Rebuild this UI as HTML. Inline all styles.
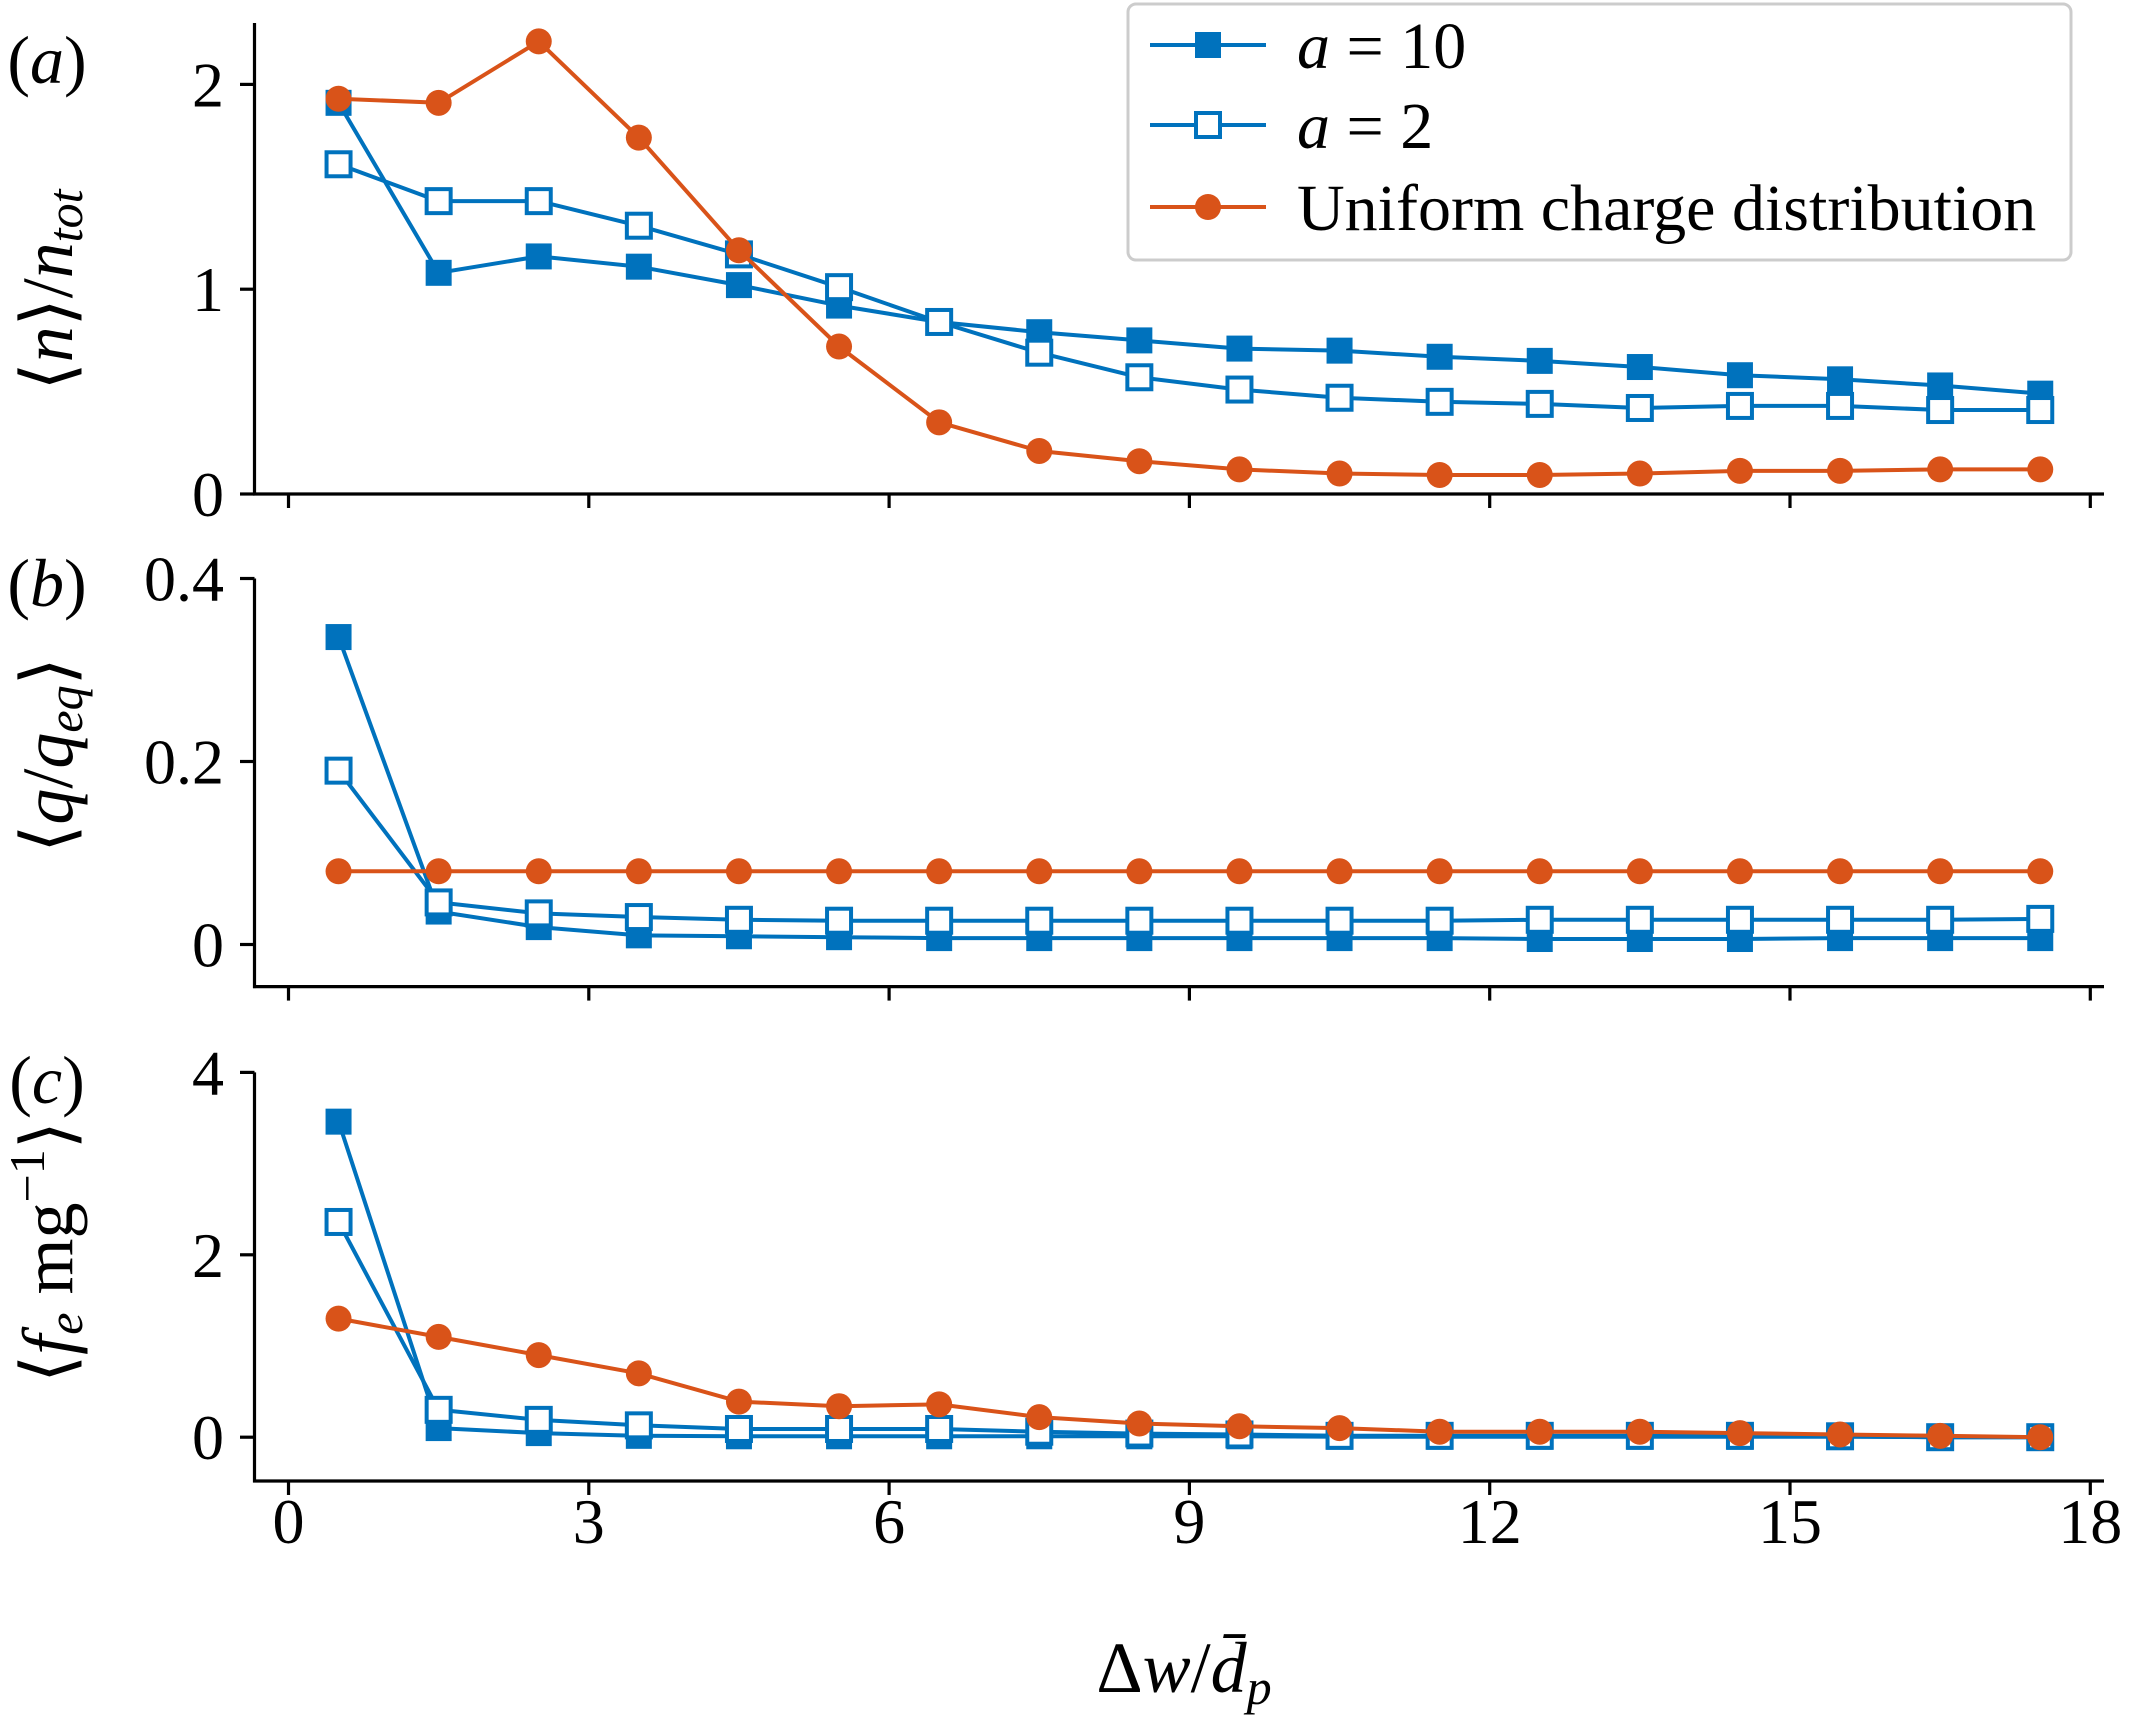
<!DOCTYPE html>
<html><head><meta charset="utf-8"><style>
html,body{margin:0;padding:0;background:#fff;}
svg{display:block;font-family:"Liberation Serif",serif;}
</style></head><body>
<svg id="chart" width="2134" height="1715" viewBox="0 0 2134 1715" xmlns="http://www.w3.org/2000/svg">
<g id="plots"></g>
<text x="47" y="83" font-size="68" text-anchor="middle">(<tspan font-style="italic">a</tspan>)</text>
<text x="47" y="606" font-size="68" text-anchor="middle">(<tspan font-style="italic">b</tspan>)</text>
<text x="47" y="1103" font-size="68" text-anchor="middle">(<tspan font-style="italic">c</tspan>)</text>
<text transform="translate(72,290) rotate(-90)" font-size="72" text-anchor="middle">⟨<tspan font-style="italic">n</tspan>⟩/<tspan font-style="italic">n<tspan font-size="50" dy="10">tot</tspan></tspan></text>
<text transform="translate(72,755) rotate(-90)" font-size="72" text-anchor="middle">⟨<tspan font-style="italic">q</tspan>/<tspan font-style="italic">q<tspan font-size="50" dy="10">eq</tspan></tspan><tspan dy="-10">⟩</tspan></text>
<text transform="translate(72,1252) rotate(-90)" font-size="72" text-anchor="middle">⟨<tspan font-style="italic">f<tspan font-size="50" dy="10">e</tspan></tspan><tspan dy="-10"> mg</tspan><tspan font-size="50" dy="-28">−1</tspan><tspan dy="28">⟩</tspan></text>
<text x="1184" y="1692" font-size="72" text-anchor="middle">Δ<tspan font-style="italic">w</tspan>/<tspan font-style="italic">d̄<tspan font-size="50" dy="12">p</tspan></tspan></text>
<g>
<rect x="1128" y="4" width="943" height="256" rx="8" fill="#fff" stroke="#ccc" stroke-width="3"/>
<g>
<line x1="1150" y1="45" x2="1266" y2="45" stroke="#0072BD" stroke-width="4"/>
<rect x="1195" y="32" width="26" height="26" fill="#0072BD"/>
<text x="1297" y="68" font-size="66"><tspan font-style="italic">a</tspan> = 10</text></g>
<g>
<line x1="1150" y1="125" x2="1266" y2="125" stroke="#0072BD" stroke-width="4"/>
<rect x="1196" y="113" width="24" height="24" fill="#fff" stroke="#0072BD" stroke-width="4"/>
<text x="1297" y="148" font-size="66"><tspan font-style="italic">a</tspan> = 2</text></g>
<g>
<line x1="1150" y1="207" x2="1266" y2="207" stroke="#D95319" stroke-width="4"/>
<circle cx="1208" cy="207" r="13" fill="#D95319"/>
<text x="1297" y="230" font-size="66">Uniform charge distribution</text></g>
</g>
</svg>
<script>
const xCenters = [0.5,1.5,2.5,3.5,4.5,5.5,6.5,7.5,8.5,9.5,10.5,11.5,12.5,13.5,14.5,15.5,16.5,17.5];
const xTicks = [0,3,6,9,12,15,18];
const nA10 = [1.91,1.08,1.16,1.11,1.02,0.92,0.84,0.79,0.75,0.71,0.70,0.67,0.65,0.62,0.58,0.56,0.53,0.49];
const nA2 = [1.61,1.43,1.43,1.31,1.17,1.01,0.84,0.69,0.57,0.51,0.47,0.45,0.44,0.42,0.43,0.43,0.41,0.41];
const nUni = [1.93,1.91,2.21,1.74,1.19,0.72,0.35,0.21,0.16,0.12,0.10,0.093,0.093,0.10,0.113,0.113,0.12,0.12];
const qA10 = [0.336,0.036,0.019,0.010,0.009,0.008,0.007,0.007,0.007,0.007,0.007,0.007,0.006,0.006,0.006,0.007,0.007,0.007];
const qA2 = [0.19,0.046,0.034,0.030,0.027,0.026,0.026,0.026,0.026,0.026,0.026,0.026,0.027,0.027,0.027,0.027,0.027,0.028];
const qUni = [0.08,0.08,0.08,0.08,0.08,0.08,0.08,0.08,0.08,0.08,0.08,0.08,0.08,0.08,0.08,0.08,0.08,0.08];
const fA10 = [3.46,0.10,0.045,0.015,0.01,0.01,0.01,0.01,0.01,0.01,0.005,0.005,0.005,0.005,0.005,0.005,0.0,0.0];
const fA2 = [2.36,0.30,0.19,0.13,0.09,0.09,0.09,0.06,0.04,0.03,0.015,0.015,0.015,0.015,0.015,0.01,0.0,0.0];
const fUni = [1.30,1.10,0.90,0.70,0.39,0.34,0.36,0.22,0.15,0.12,0.10,0.06,0.06,0.06,0.045,0.03,0.015,0.0];
const yTicksA = [0,1,2], yTicksB = [0,0.2,0.4], yTicksC = [0,2,4];
const yLabelsA = ["0","1","2"], yLabelsB = ["0","0.2","0.4"], yLabelsC = ["0","2","4"];

const NS = "http://www.w3.org/2000/svg";
const root = document.getElementById('plots');
const X0 = 288.5, XU = 100.1;
const xs = v => X0 + v*XU;
function mk(tag, attrs, parent){const e=document.createElementNS(NS,tag);for(const k in attrs)e.setAttribute(k,attrs[k]);parent.appendChild(e);return e;}
const panels = [
 {id:'a', zeroY:494, unit:204.8, yMin:0, yMax:2.3, ticks:yTicksA, labels:yLabelsA, series:[nA10,nA2,nUni], showX:false},
 {id:'b', zeroY:944.5, unit:915, yMin:-0.046, yMax:0.4, ticks:yTicksB, labels:yLabelsB, series:[qA10,qA2,qUni], showX:false},
 {id:'c', zeroY:1437.2, unit:91.2, yMin:-0.48, yMax:4, ticks:yTicksC, labels:yLabelsC, series:[fA10,fA2,fUni], showX:true}
];
const styles = [{c:'#0072BD',m:'fsq',n:'a10'},{c:'#0072BD',m:'osq',n:'a2'},{c:'#D95319',m:'circ',n:'uniform'}];
panels.forEach(p=>{
  const ys = v => p.zeroY - v*p.unit;
  const g = mk('g',{},root);
  
  
  const yb = ys(p.yMin), yt = ys(p.yMax);
  const sp1 = mk('line',{x1:254.5,y1:yt,x2:254.5,y2:yb+1.5,stroke:'#000','stroke-width':3.2},g);
  
  
  const sp2 = mk('line',{x1:253,y1:yb,x2:2104,y2:yb,stroke:'#000','stroke-width':3.2},g);
  
  
  p.ticks.forEach((t,i)=>{
    mk('line',{x1:240,y1:ys(t),x2:254.5,y2:ys(t),stroke:'#000','stroke-width':3.2},g);
    const tx = mk('text',{x:224,y:ys(t)+22,'font-size':64,'text-anchor':'end'},g);
    
    
    tx.textContent = p.labels[i];
  });
  xTicks.forEach(t=>{
    mk('line',{x1:xs(t),y1:yb,x2:xs(t),y2:yb+14,stroke:'#000','stroke-width':3.2},g);
    if(p.showX){
      const tx = mk('text',{x:xs(t),y:yb+62,'font-size':64,'text-anchor':'middle'},g);
      
      
      tx.textContent = String(t);
    }
  });
  p.series.forEach((arr,si)=>{
    const st = styles[si];
    const sg = mk('g',{},g);
    
    
    const pts = arr.map((v,i)=>xs(xCenters[i]).toFixed(1)+','+ys(v).toFixed(1)).join(' ');
    const pl = mk('polyline',{points:pts,fill:'none',stroke:st.c,'stroke-width':4,'stroke-linejoin':'round'},sg);
    
    
    arr.forEach((v,i)=>{
      const cx = xs(xCenters[i]), cy = ys(v);
      let m;
      if(st.m==='fsq') m = mk('rect',{x:cx-13,y:cy-13,width:26,height:26,fill:st.c},sg);
      else if(st.m==='osq') m = mk('rect',{x:cx-12,y:cy-12,width:24,height:24,fill:'#fff',stroke:st.c,'stroke-width':4},sg);
      else m = mk('circle',{cx:cx,cy:cy,r:13,fill:st.c},sg);
      
      
    });
  });
});
</script>
</body></html>
